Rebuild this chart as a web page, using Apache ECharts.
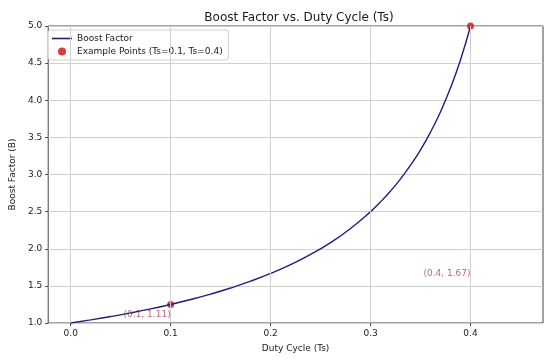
<!DOCTYPE html>
<html><head><meta charset="utf-8">
<script src="https://cdn.jsdelivr.net/npm/echarts@6/dist/echarts.min.js"></script>
<style>html,body{margin:0;padding:0;background:#fff}#c{width:554px;height:360px}</style>
</head><body><div id="c"></div>
<script>
// Curve values
var dutyCycle = [0, 0.02, 0.04, 0.06, 0.08, 0.10, 0.12, 0.14, 0.16, 0.18, 0.20, 0.22, 0.24, 0.26, 0.28, 0.30, 0.31, 0.32, 0.33, 0.34, 0.35, 0.36, 0.37, 0.38, 0.39, 0.40];
var boostFactor = [1.00, 1.042, 1.087, 1.136, 1.19, 1.25, 1.316, 1.389, 1.471, 1.563, 1.667, 1.786, 1.923, 2.083, 2.273, 2.50, 2.632, 2.778, 2.941, 3.125, 3.333, 3.571, 3.846, 4.167, 4.545, 5.00];
var pointX = [0.1, 0.4];
var pointY = [1.25, 5.0];
var annotX = [0.1, 0.4];
var annotY = [1.11, 1.67];
var annotText = ['(0.1, 1.11)', '(0.4, 1.67)'];
var xTicks = [0.0, 0.1, 0.2, 0.3, 0.4];

var font = 'DejaVu Sans';
var chart = echarts.init(document.getElementById('c'));
var curve = dutyCycle.map(function (x, i) { return [x, boostFactor[i]]; });
var pts = pointX.map(function (x, i) { return [x, pointY[i]]; });
var ann = annotX.map(function (x, i) { return { value: [x, annotY[i]], label: { formatter: annotText[i] } }; });

chart.setOption({
  animation: false,
  textStyle: { fontFamily: font },
  title: {
    text: 'Boost Factor vs. Duty Cycle (Ts)', left: 294, top: 7, textAlign: 'center',
    textStyle: { fontFamily: font, fontSize: 12, fontWeight: 'normal', color: '#1a1a1a' }
  },
  grid: { left: 45, right: 11, top: 26, bottom: 37, containLabel: false, show: true, borderColor: '#444', borderWidth: 1 },
  legend: {
    orient: 'vertical', left: 48, top: 30, padding: [4, 6, 4, 4], itemGap: 4,
    itemWidth: 20, itemHeight: 8,
    backgroundColor: 'rgba(255,255,255,0.85)', borderColor: '#d0d0d0', borderWidth: 1, borderRadius: 3,
    textStyle: { fontFamily: font, fontSize: 9, color: '#1a1a1a' },
    data: [
      { name: 'Boost Factor', icon: 'path://M0,0 L20,0 L20,1.6 L0,1.6 Z', itemStyle: { color: '#1f1f80' } },
      { name: 'Example Points (Ts=0.1, Ts=0.4)', icon: 'circle', itemStyle: { color: '#d62728' } }
    ]
  },
  xAxis: {
    type: 'value', min: -0.0225, max: 0.4725,
    name: 'Duty Cycle (Ts)', nameLocation: 'middle', nameGap: 21,
    nameTextStyle: { fontFamily: font, fontSize: 9, color: '#1a1a1a' },
    axisLine: { show: false, onZero: false }, splitLine: { show: false },
    axisTick: { show: true, customValues: xTicks, length: 3, lineStyle: { color: '#444' } },
    axisLabel: { customValues: xTicks, fontFamily: font, fontSize: 9, color: '#222', margin: 6,
      formatter: function (v) { return v.toFixed(1); } }
  },
  yAxis: {
    type: 'value', min: 1, max: 5, interval: 0.5,
    name: 'Boost Factor (B)', nameLocation: 'middle', nameGap: 30,
    nameTextStyle: { fontFamily: font, fontSize: 9, color: '#1a1a1a' },
    axisLine: { show: false, onZero: false },
    axisTick: { show: true, length: 3, lineStyle: { color: '#444' } },
    splitLine: { show: true, lineStyle: { color: '#d0d0d0', width: 1 } },
    axisLabel: { fontFamily: font, fontSize: 9, color: '#222', margin: 6,
      formatter: function (v) { return v.toFixed(1); } }
  },
  series: [
    {
      name: 'gridX', type: 'line', data: [], silent: true,
      markLine: { silent: true, symbol: 'none', label: { show: false },
        lineStyle: { color: '#d0d0d0', type: 'solid', width: 1 },
        data: xTicks.map(function (v) { return { xAxis: v }; }) },
      z: 1
    },
    {
      name: 'Example Points (Ts=0.1, Ts=0.4)', type: 'scatter', data: pts, symbolSize: 7,
      itemStyle: { color: '#d62728', opacity: 0.9 }, z: 2
    },
    {
      name: 'Boost Factor', type: 'line', data: curve, smooth: true, symbol: 'none',
      lineStyle: { color: '#1f1f80', width: 1.4 }, itemStyle: { color: '#1f1f80' }, z: 3
    },
    {
      name: 'annotations', type: 'scatter', data: ann, symbolSize: 0, silent: true,
      label: { show: true, position: 'left', distance: 0, fontFamily: font, fontSize: 9, color: 'rgba(150,35,45,0.85)' },
      z: 4
    }
  ]
});
</script></body></html>
